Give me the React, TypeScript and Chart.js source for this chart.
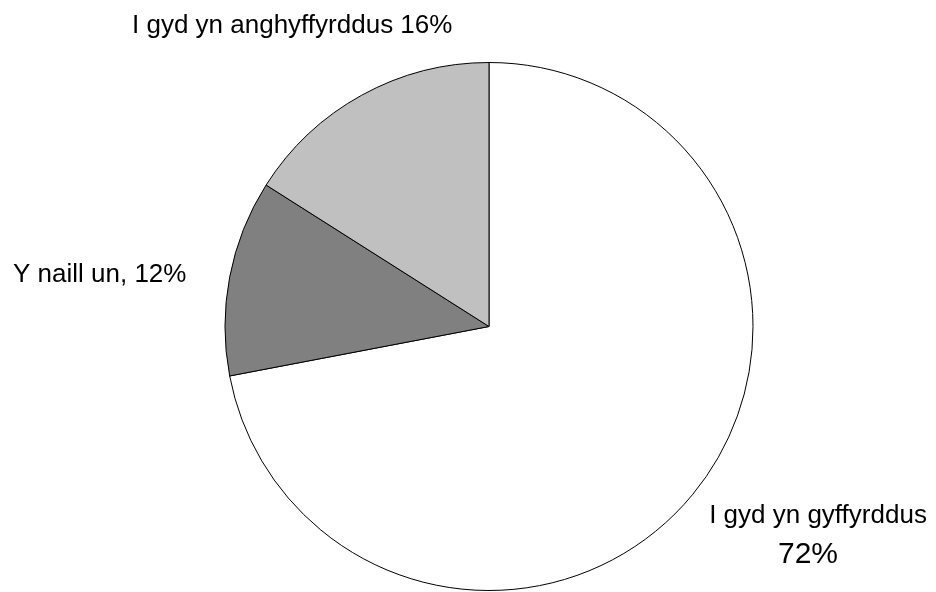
import React, { useEffect, useRef } from "react";
import { Chart, registerables } from "chart.js";

Chart.register(...registerables);

const categories = ["I gyd yn gyffyrddus", "Y naill un", "I gyd yn anghyffyrddus"];
const values = [72, 12, 16];
const colors = ["#ffffff", "#808080", "#c0c0c0"];

const FONT = "'Liberation Sans', Arial, sans-serif";

const labelPlugin = {
  id: "sliceLabels",
  afterDraw(chart: any) {
    const meta = chart.getDatasetMeta(0);
    const arc = meta.data[0];
    if (!arc) return;
    const cx = arc.x;
    const cy = arc.y;
    const r = arc.outerRadius;
    const ctx = chart.ctx;
    ctx.save();
    ctx.fillStyle = "#000";
    ctx.textBaseline = "alphabetic";
    ctx.font = `26px ${FONT}`;
    ctx.textAlign = "left";
    // top label (16%)
    ctx.fillText(`${categories[2]} ${values[2]}%`, cx - 357, cy - r - 30);
    // left label (12%)
    ctx.fillText(`${categories[1]}, ${values[1]}%`, cx - 476, cy - 44.5);
    // bottom-right label (72%)
    ctx.textAlign = "center";
    ctx.fillText(categories[0], cx + 329, cy + 196.5);
    ctx.font = `30px ${FONT}`;
    ctx.fillText(`${values[0]}%`, cx + 319, cy + 236.5);
    ctx.restore();
  },
};

export default function App() {
  const ref = useRef<HTMLCanvasElement | null>(null);
  useEffect(() => {
    document.body.style.margin = "0";
    const canvas = ref.current;
    if (!canvas) return;
    const chart = new Chart(canvas, {
      type: "pie",
      data: {
        labels: categories,
        datasets: [
          {
            data: values,
            backgroundColor: colors,
            borderColor: "#000000",
            borderWidth: 1,
          },
        ],
      },
      options: {
        responsive: false,
        animation: false,
        devicePixelRatio: 1,
        layout: { padding: { left: 224.5, right: 182.5, top: 62, bottom: 1 } },
        plugins: {
          legend: { display: false },
          tooltip: { enabled: false },
        },
      },
      plugins: [labelPlugin],
    });
    return () => chart.destroy();
  }, []);
  return (
    <div style={{ width: 936, height: 592, background: "#fff" }}>
      <canvas ref={ref} width={936} height={592} style={{ display: "block" }} />
    </div>
  );
}
